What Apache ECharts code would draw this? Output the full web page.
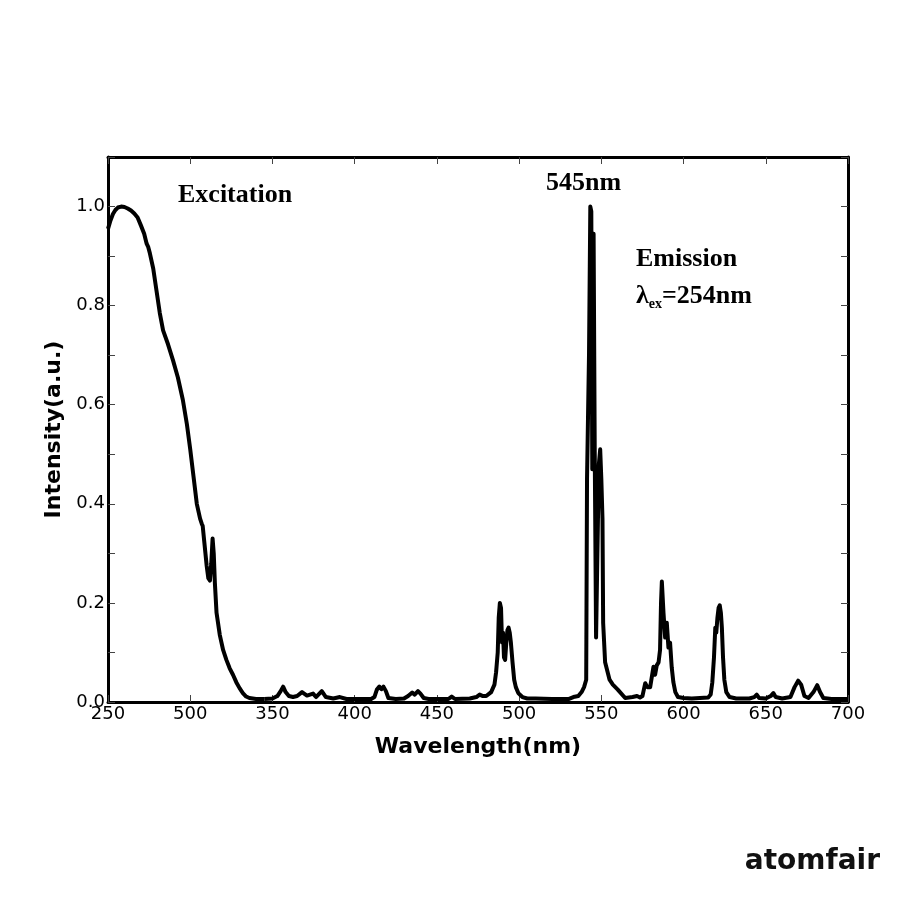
<!DOCTYPE html>
<html>
<head>
<meta charset="utf-8">
<script src="https://cdn.jsdelivr.net/npm/echarts@6/dist/echarts.min.js"></script>
<style>html,body{margin:0;padding:0;background:#fff;}#c{width:900px;height:900px;}</style>
</head>
<body>
<div id="c"></div>
<script>
// ---- data ----
const xTickLabels = ["250","500","350","400","450","500","550","600","650","700"];
const yTickLabels = ["0.0","0.2","0.4","0.6","0.8","1.0"];

const excitationWl = [250,251.5,253,254.5,256,258,260,262,264,266,268,270,272,273.5,274.5,275.5,277.5,279.5,281.5,283.5,286.5,289.5,292.5,295.5,298,300,302,304,306,307,307.6,308.5,310,311,312,312.8,313.6,314.3,315,316,318,320,322,324,326,328,330,332,334,336,340,345];
const excitationI  = [0.955,0.972,0.985,0.993,0.998,1.0,0.999,0.996,0.992,0.986,0.978,0.962,0.945,0.925,0.918,0.905,0.875,0.83,0.785,0.75,0.722,0.69,0.655,0.61,0.56,0.51,0.455,0.40,0.37,0.36,0.355,0.325,0.275,0.25,0.245,0.28,0.33,0.30,0.24,0.18,0.135,0.105,0.085,0.068,0.055,0.04,0.028,0.018,0.011,0.008,0.006,0.006];

const emissionWl = [345,350,353,355,356.5,358,360,362.5,365,368,371,374.7,376.5,380,382.5,387,391,395,400,405,410,412,413.5,415,416.3,417.5,419,420.5,425,430,432.5,435,436.5,438.5,440,442,445,450,457,459,461,470,474,476,478,480,483,485,486,487,487.6,488.3,489,489.6,490.2,490.8,491.5,492.2,492.9,493.6,494.3,495,496,497,498,499.5,502,505,510,520,530,533,536,538,539.5,540.8,541.3,541.9,542.5,543.3,543.9,544.5,545.3,546,546.8,547.6,548.5,549.3,550,550.7,551.1,552.3,555,557,560,564.5,569,571.7,573.5,575,576.7,578,579.7,581.7,582.7,583.7,584.8,585.7,586.3,586.8,587.3,587.8,588.8,589.8,590.8,591.8,592.8,593.8,595,596.6,600,605,610,615,616.5,617.5,618.5,619.3,619.9,620.6,621.3,622,622.7,623.3,624,624.8,626,628,632,640,643,644.5,646,650,653,654.6,656,660,665,667.5,669.7,671.5,673.5,676,679,681.3,683,685,690,695,700];
const emissionI  = [0.006,0.007,0.012,0.022,0.031,0.02,0.012,0.01,0.012,0.02,0.013,0.017,0.01,0.022,0.01,0.007,0.01,0.006,0.006,0.006,0.006,0.01,0.025,0.031,0.026,0.031,0.022,0.008,0.006,0.007,0.012,0.019,0.015,0.022,0.017,0.008,0.006,0.006,0.006,0.011,0.006,0.007,0.01,0.015,0.012,0.012,0.02,0.035,0.06,0.1,0.17,0.2,0.19,0.12,0.14,0.09,0.085,0.12,0.145,0.15,0.14,0.12,0.08,0.045,0.03,0.018,0.01,0.007,0.007,0.006,0.006,0.01,0.012,0.02,0.03,0.045,0.45,0.45,0.7,1.0,0.99,0.47,0.945,0.5,0.13,0.3,0.48,0.51,0.45,0.37,0.16,0.08,0.045,0.035,0.025,0.008,0.01,0.012,0.009,0.012,0.038,0.03,0.03,0.071,0.055,0.074,0.08,0.105,0.2,0.243,0.24,0.18,0.13,0.16,0.11,0.12,0.07,0.04,0.02,0.01,0.008,0.007,0.008,0.009,0.015,0.04,0.09,0.15,0.14,0.17,0.19,0.195,0.18,0.15,0.09,0.045,0.02,0.01,0.007,0.007,0.01,0.015,0.008,0.007,0.012,0.018,0.01,0.007,0.01,0.03,0.043,0.035,0.012,0.008,0.02,0.034,0.02,0.008,0.006,0.006,0.006];

// ---- build ----
function zip(a, b) { return a.map((v, i) => [v, b[i]]); }
const chart = echarts.init(document.getElementById('c'), null, {renderer: 'canvas'});
const tickFont = {fontFamily: 'DejaVu Sans', fontSize: 18, color: '#000'};
const serif = 'Liberation Serif';

const option = {
  backgroundColor: '#fff',
  animation: false,
  grid: {left: 108, right: 52, top: 157, bottom: 198},
  xAxis: [{
    type: 'value', min: 250, max: 700, interval: 50, position: 'bottom',
    name: 'Wavelength(nm)', nameLocation: 'middle', nameGap: 34,
    nameTextStyle: {fontFamily: 'DejaVu Sans', fontWeight: 'bold', fontSize: 22, color: '#000'},
    axisLine: {show: true, onZero: false, lineStyle: {color: '#000', width: 3}},
    axisTick: {show: true, inside: true, length: 7, lineStyle: {color: '#444', width: 1}},
    axisLabel: Object.assign({margin: 3, formatter: v => xTickLabels[Math.round((v - 250) / 50)]}, tickFont),
    splitLine: {show: false}
  }, {
    type: 'value', min: 250, max: 700, interval: 50, position: 'top',
    axisLine: {show: true, onZero: false, lineStyle: {color: '#000', width: 3}},
    axisTick: {show: true, inside: true, length: 7, lineStyle: {color: '#444', width: 1}},
    axisLabel: {show: false}, splitLine: {show: false}
  }],
  yAxis: [{
    type: 'value', min: 0, max: 1.1, interval: 0.1, position: 'left',
    name: 'Intensity(a.u.)', nameLocation: 'middle', nameGap: 38,
    nameTextStyle: {fontFamily: 'DejaVu Sans', fontWeight: 'bold', fontSize: 22, color: '#000'},
    axisLine: {show: true, onZero: false, lineStyle: {color: '#000', width: 3}},
    axisTick: {show: true, inside: true, length: 7, lineStyle: {color: '#444', width: 1}},
    axisLabel: Object.assign({margin: 3, formatter: v => {
      const k = Math.round(v * 10);
      return (k % 2 === 0 && k <= 10) ? yTickLabels[k / 2] : '';
    }}, tickFont),
    splitLine: {show: false}
  }, {
    type: 'value', min: 0, max: 1.1, interval: 0.1, position: 'right',
    axisLine: {show: true, onZero: false, lineStyle: {color: '#000', width: 3}},
    axisTick: {show: true, inside: true, length: 7, lineStyle: {color: '#444', width: 1}},
    axisLabel: {show: false}, splitLine: {show: false}
  }],
  series: [{
    name: 'Excitation', type: 'line', xAxisIndex: 0, yAxisIndex: 0,
    data: zip(excitationWl, excitationI), showSymbol: false,
    lineStyle: {color: '#000', width: 4, join: 'round'}
  }, {
    name: 'Emission', type: 'line', xAxisIndex: 0, yAxisIndex: 0,
    data: zip(emissionWl, emissionI), showSymbol: false,
    lineStyle: {color: '#000', width: 4, join: 'round'}
  }],
  graphic: [
    {type: 'text', x: 178, y: 195, style: {text: 'Excitation', fontFamily: serif, fontWeight: 'bold', fontSize: 26, fill: '#000', align: 'left', verticalAlign: 'middle'}},
    {type: 'text', x: 546, y: 183, style: {text: '545nm', fontFamily: serif, fontWeight: 'bold', fontSize: 26, fill: '#000', align: 'left', verticalAlign: 'middle'}},
    {type: 'text', x: 636, y: 259, style: {text: 'Emission', fontFamily: serif, fontWeight: 'bold', fontSize: 26, fill: '#000', align: 'left', verticalAlign: 'middle'}},
    {type: 'text', x: 636, y: 296, style: {
      text: '{a|λ}{s|ex}{a|=254nm}', align: 'left', verticalAlign: 'middle',
      rich: {
        a: {fontFamily: serif, fontWeight: 'bold', fontSize: 26, fill: '#000', color: '#000', lineHeight: 30, verticalAlign: 'middle'},
        s: {fontFamily: serif, fontWeight: 'bold', fontSize: 14, fill: '#000', color: '#000', lineHeight: 14, verticalAlign: 'bottom'}
      }
    }},
    {type: 'text', x: 880, y: 862, style: {text: 'atomfair', fontFamily: 'DejaVu Sans', fontWeight: 'bold', fontSize: 28, fill: '#111', align: 'right', verticalAlign: 'middle'}}
  ]
};
chart.setOption(option);
</script>
</body>
</html>
